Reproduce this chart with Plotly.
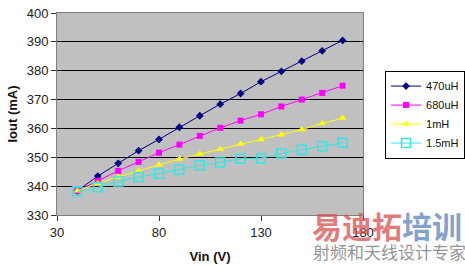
import plotly.graph_objects as go

vin = [40, 50, 60, 70, 80, 90, 100, 110, 120, 130, 140, 150, 160, 170]
i_470uH = [338.4, 343.5, 347.9, 352.3, 356.2, 360.4, 364.4, 368.4, 372.1, 376.2, 379.8, 383.3, 386.9, 390.5]
i_680uH = [338.4, 341.9, 345.3, 348.4, 351.6, 354.4, 357.4, 360.2, 362.7, 364.9, 367.6, 370.0, 372.3, 374.8]
i_1mH = [338.4, 341.0, 343.2, 345.3, 347.4, 349.4, 351.1, 352.8, 354.6, 356.2, 357.8, 359.6, 361.7, 363.6]
i_15mH = [338.2, 339.6, 341.6, 343.2, 344.4, 345.8, 347.2, 348.2, 349.5, 349.7, 351.3, 352.6, 353.8, 355.0]
series_names = ["470uH", "680uH", "1mH", "1.5mH"]
x_ticks = [30, 80, 130, 180]
y_ticks = [330, 340, 350, 360, 370, 380, 390, 400]

styles = [
    dict(color="#000080", symbol="diamond", size=6),
    dict(color="#ff00ff", symbol="square", size=6),
    dict(color="#ffff00", symbol="triangle-up", size=7),
    dict(color="#33e6e6", symbol="square-open", size=9),
]

fig = go.Figure()
for name, ys, st in zip(series_names, [i_470uH, i_680uH, i_1mH, i_15mH], styles):
    fig.add_trace(go.Scatter(
        x=vin, y=ys, name=name, mode="lines+markers",
        line=dict(color=st["color"], width=1),
        marker=dict(color=st["color"], symbol=st["symbol"], size=st["size"],
                    line=dict(width=1.5 if st["symbol"] == "square-open" else 0, color=st["color"])),
    ))

font = "Arial, Liberation Sans, sans-serif"
fig.update_layout(
    width=465, height=265,
    margin=dict(l=57, r=102, t=13, b=50, autoexpand=False),
    paper_bgcolor="white",
    plot_bgcolor="#c0c0c0",
    font=dict(family=font, size=13, color="#222222"),
    showlegend=True,
    legend=dict(
        x=1.072, y=0.715, xanchor="left", yanchor="top",
        bordercolor="#000000", borderwidth=1, bgcolor="white",
        font=dict(size=11, color="#111111"),
        tracegroupgap=0, itemwidth=30,
    ),
    xaxis=dict(
        range=[30, 180], tickvals=x_ticks, ticks="outside", ticklen=5,
        tickcolor="#333333", showgrid=False, zeroline=False,
        showline=True, linecolor="#808080", linewidth=1, mirror=True,
        title=dict(text="<b>Vin (V)</b>", font=dict(size=13, color="#111111"), standoff=13),
    ),
    yaxis=dict(
        range=[330, 400], tickvals=y_ticks, ticks="outside", ticklen=5,
        tickcolor="#333333", showgrid=True, gridcolor="#000000", gridwidth=1,
        zeroline=False, showline=True, linecolor="#808080", linewidth=1, mirror=True,
        title=dict(text="<b>Iout (mA)</b>", font=dict(size=13, color="#111111"), standoff=6),
    ),
)

cjk = "Noto Sans CJK SC"
fig.add_annotation(xref="paper", yref="paper", x=1.08, y=-0.05, xanchor="center", yanchor="middle",
                   text="<b><span style='color:rgba(220,80,80,0.75)'>易迪拓</span>"
                        "<span style='color:rgba(90,130,190,0.75)'>培训</span></b>",
                   showarrow=False, font=dict(family=cjk, size=30))
fig.add_annotation(xref="paper", yref="paper", x=1.085, y=-0.18, xanchor="center", yanchor="middle",
                   text="射频和天线设计专家", showarrow=False,
                   font=dict(family=cjk, size=17, color="rgba(120,120,120,0.8)"))

fig.write_html("out.html")
